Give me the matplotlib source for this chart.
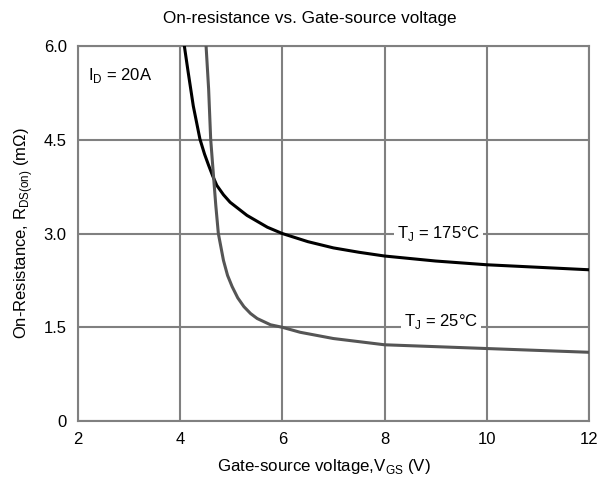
import matplotlib
matplotlib.use("Agg")
import matplotlib.pyplot as plt

plt.rcParams['font.family'] = ['Liberation Sans', 'DejaVu Sans']

# data
vgs_175 = [4.085, 4.16, 4.26, 4.39, 4.48, 4.56, 4.64, 4.72, 4.85, 4.98, 5.31, 5.71, 6.0,
           6.5, 7.0, 7.5, 8.0, 9.0, 10.0, 11.0, 12.0]
rds_175 = [6.0, 5.58, 5.04, 4.51, 4.27, 4.09, 3.92, 3.77, 3.62, 3.50, 3.29, 3.10, 3.0,
           2.87, 2.77, 2.70, 2.64, 2.56, 2.50, 2.46, 2.42]

vgs_25 = [4.51, 4.56, 4.60, 4.66, 4.70, 4.75, 4.85, 4.93, 5.02, 5.13, 5.25, 5.38, 5.51, 5.77,
          6.0, 6.35, 7.0, 8.0, 9.0, 10.0, 11.0, 12.0]
rds_25 = [6.0, 5.31, 4.51, 3.87, 3.45, 3.0, 2.57, 2.33, 2.15, 1.97, 1.83, 1.72, 1.64, 1.54,
          1.50, 1.42, 1.32, 1.22, 1.19, 1.16, 1.13, 1.10]

x_ticks = [2, 4, 6, 8, 10, 12]
y_ticks = [0, 1.5, 3.0, 4.5, 6.0]
y_labels = ["0", "1.5", "3.0", "4.5", "6.0"]

grid_c = "#808080"

fig = plt.figure(figsize=(5.98, 4.79), dpi=100)
ax = fig.add_axes([0.130, 0.121, 0.855, 0.783])

ax.plot(vgs_175, rds_175, color="black", lw=2.2, zorder=3)
ax.plot(vgs_25, rds_25, color="#555555", lw=2.2, zorder=3)

ax.set_xlim(2, 12)
ax.set_ylim(0, 6)
ax.set_xticks(x_ticks)
ax.set_yticks(y_ticks)
ax.set_yticklabels(y_labels)
ax.tick_params(length=0, labelsize=12, pad=8)
ax.grid(True, color=grid_c, lw=1.5)
for s in ax.spines.values():
    s.set_color(grid_c)
    s.set_linewidth(1.5)

fig.text(0.518, 0.962, "On-resistance vs. Gate-source voltage", fontsize=12.3,
         ha="center", va="center")
ax.set_xlabel("Gate-source voltage,V$_{\\mathregular{GS}}$ (V)", fontsize=12.2, labelpad=10)
ax.xaxis.set_label_coords(0.481, -0.095)
ax.set_ylabel("On-Resistance, R$_{\\mathregular{DS(on)}}$ (m\u03a9)", fontsize=12, labelpad=6)

box = dict(facecolor="white", edgecolor="none", pad=2)
ax.text(2.2, 5.45, "I$_{\\mathregular{D}}$ = 20A", fontsize=12)
ax.text(9.05, 3.0, "T$_{\\mathregular{J}}$ = 175\u00b0C", fontsize=12, ha="center",
        va="center", bbox=box, zorder=4)
ax.text(9.1, 1.6, "T$_{\\mathregular{J}}$ = 25\u00b0C", fontsize=12, ha="center",
        va="center", bbox=box, zorder=4)

fig.savefig("out.png", dpi=100)
